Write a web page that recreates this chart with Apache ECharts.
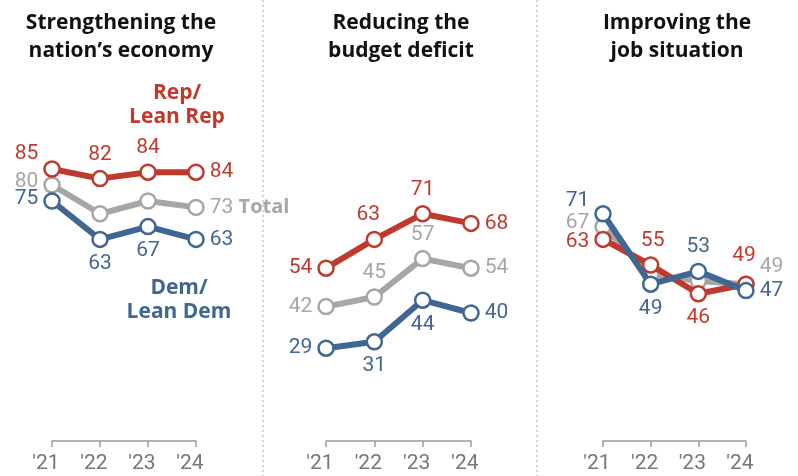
<!DOCTYPE html>
<html><head><meta charset="utf-8">
<script src="https://cdn.jsdelivr.net/npm/echarts@6/dist/echarts.min.js"></script>
<style>html,body{margin:0;padding:0;background:#fff}#c{width:798px;height:476px}</style>
</head><body><div id="c"></div>
<script>
const years = ["'21", "'22", "'23", "'24"];
const panelTitles = ["Strengthening the\nnation\u2019s economy", "Reducing the\nbudget deficit", "Improving the\njob situation"];
const repValues = [[85, 82, 84, 84], [54, 63, 71, 68], [63, 55, 46, 49]];
const totalValues = [[80, 71, 75, 73], [42, 45, 57, 54], [67, 52, 50, 49]];
const demValues = [[75, 63, 67, 63], [29, 31, 44, 40], [71, 49, 53, 47]];

const RED = '#bf3a2c', GRAY = '#a6a6a6', BLUE = '#3f6792';
const FONT = 'Roboto';
const BOLD = '"Open Sans"';

// label placement per panel / point: [position, dx, dy] or null (hidden)
const repLabelPos = [
  [['left', 0, -15], ['top', 0, 0], ['top', 0, 0], ['right', 0, 0]],
  [['left', 0, 0], ['top', -6, 0], ['top', 0, 0], ['right', 0, 0]],
  [['left', 0, 2], ['top', 2, 0], ['bottom', 0, 0], ['top', -2, -4]]
];
const totalLabelPos = [
  [['left', 0, -3], null, null, ['right', 0, 0]],
  [['left', 0, 0], ['top', 0, 0], ['top', 0, 0], ['right', 0, 0]],
  [['left', 0, -4], null, null, ['right', 0, -17]]
];
const demLabelPos = [
  [['left', 0, -2], ['bottom', 0, 0], ['bottom', 0, 0], ['right', 0, 0]],
  [['left', 0, 0], ['bottom', 0, 0], ['bottom', 0, 0], ['right', 0, 0]],
  [['left', 0, -13], ['bottom', 0, 0], ['top', 0, 0], ['right', 0, 0]]
];

const gridsX = [[52, 196], [326, 471], [603, 746]];
const grids = [], xAxes = [], yAxes = [], series = [];

function makeSeries(p, name, vals, posSpec, color, z) {
  return {
    type: 'line', name: name, xAxisIndex: p, yAxisIndex: p, z: z,
    symbol: 'circle', symbolSize: 15,
    lineStyle: { color: color, width: 6 },
    itemStyle: { color: '#fff', borderColor: color, borderWidth: 2.5 },
    emphasis: { disabled: true },
    data: vals.map((v, i) => {
      const s = posSpec[i];
      if (!s) return { value: v, label: { show: false } };
      const lbl = { show: true, position: s[0], offset: [s[1], s[2]], distance: 5 };
      if (name === 'Total' && p === 0 && i === 3) {
        lbl.formatter = '{v|{c}} {t|Total}';
        lbl.rich = {
          v: { color: GRAY, fontSize: 21, fontFamily: FONT },
          t: { color: GRAY, fontSize: 20, fontFamily: BOLD, fontWeight: 'bold' }
        };
      }
      return { value: v, label: lbl };
    }),
    label: { color: color, fontSize: 21, fontFamily: FONT }
  };
}

for (let p = 0; p < 3; p++) {
  grids.push({ left: gridsX[p][0], width: gridsX[p][1] - gridsX[p][0], top: 121, bottom: 35 });
  xAxes.push({
    type: 'category', gridIndex: p, data: years, boundaryGap: false,
    axisLine: { lineStyle: { color: '#9a9a9a', width: 1.5 } },
    axisTick: { show: true, length: 6, inside: false, lineStyle: { color: '#9a9a9a', width: 1.5 } },
    axisLabel: { color: '#777', fontSize: 21, fontFamily: FONT, margin: 12, padding: [0, 12, 0, 0] }
  });
  yAxes.push({ type: 'value', gridIndex: p, min: 0, max: 100, show: false, splitLine: { show: false } });
  series.push(makeSeries(p, 'Total', totalValues[p], totalLabelPos[p], GRAY, 2));
  series.push(makeSeries(p, 'Rep', repValues[p], repLabelPos[p], RED, 3));
  series.push(makeSeries(p, 'Dem', demValues[p], demLabelPos[p], BLUE, 4));
}

const titleCenters = [121, 401, 677];
const graphics = [];
titleCenters.forEach((cx, i) => {
  graphics.push({ type: 'text', x: cx, y: 9, style: { text: panelTitles[i], fill: '#111', font: 'bold 21px ' + BOLD, textAlign: 'center', lineHeight: 28 } });
});
[263, 537].forEach(x => {
  graphics.push({ type: 'line', shape: { x1: x, y1: 0, x2: x, y2: 476 }, style: { stroke: '#b5b5b5', lineWidth: 1.2, lineDash: [2, 3] } });
});
graphics.push({ type: 'text', x: 177, y: 81, style: { text: 'Rep/\nLean Rep', fill: RED, font: 'bold 21px ' + BOLD, textAlign: 'center', lineHeight: 24 } });
graphics.push({ type: 'text', x: 179, y: 276, style: { text: 'Dem/\nLean Dem', fill: BLUE, font: 'bold 21px ' + BOLD, textAlign: 'center', lineHeight: 24 } });

const chart = echarts.init(document.getElementById('c'), null, { renderer: 'canvas' });
chart.setOption({
  animation: false,
  backgroundColor: '#fff',
  grid: grids, xAxis: xAxes, yAxis: yAxes, series: series,
  graphic: graphics
});
</script></body></html>
